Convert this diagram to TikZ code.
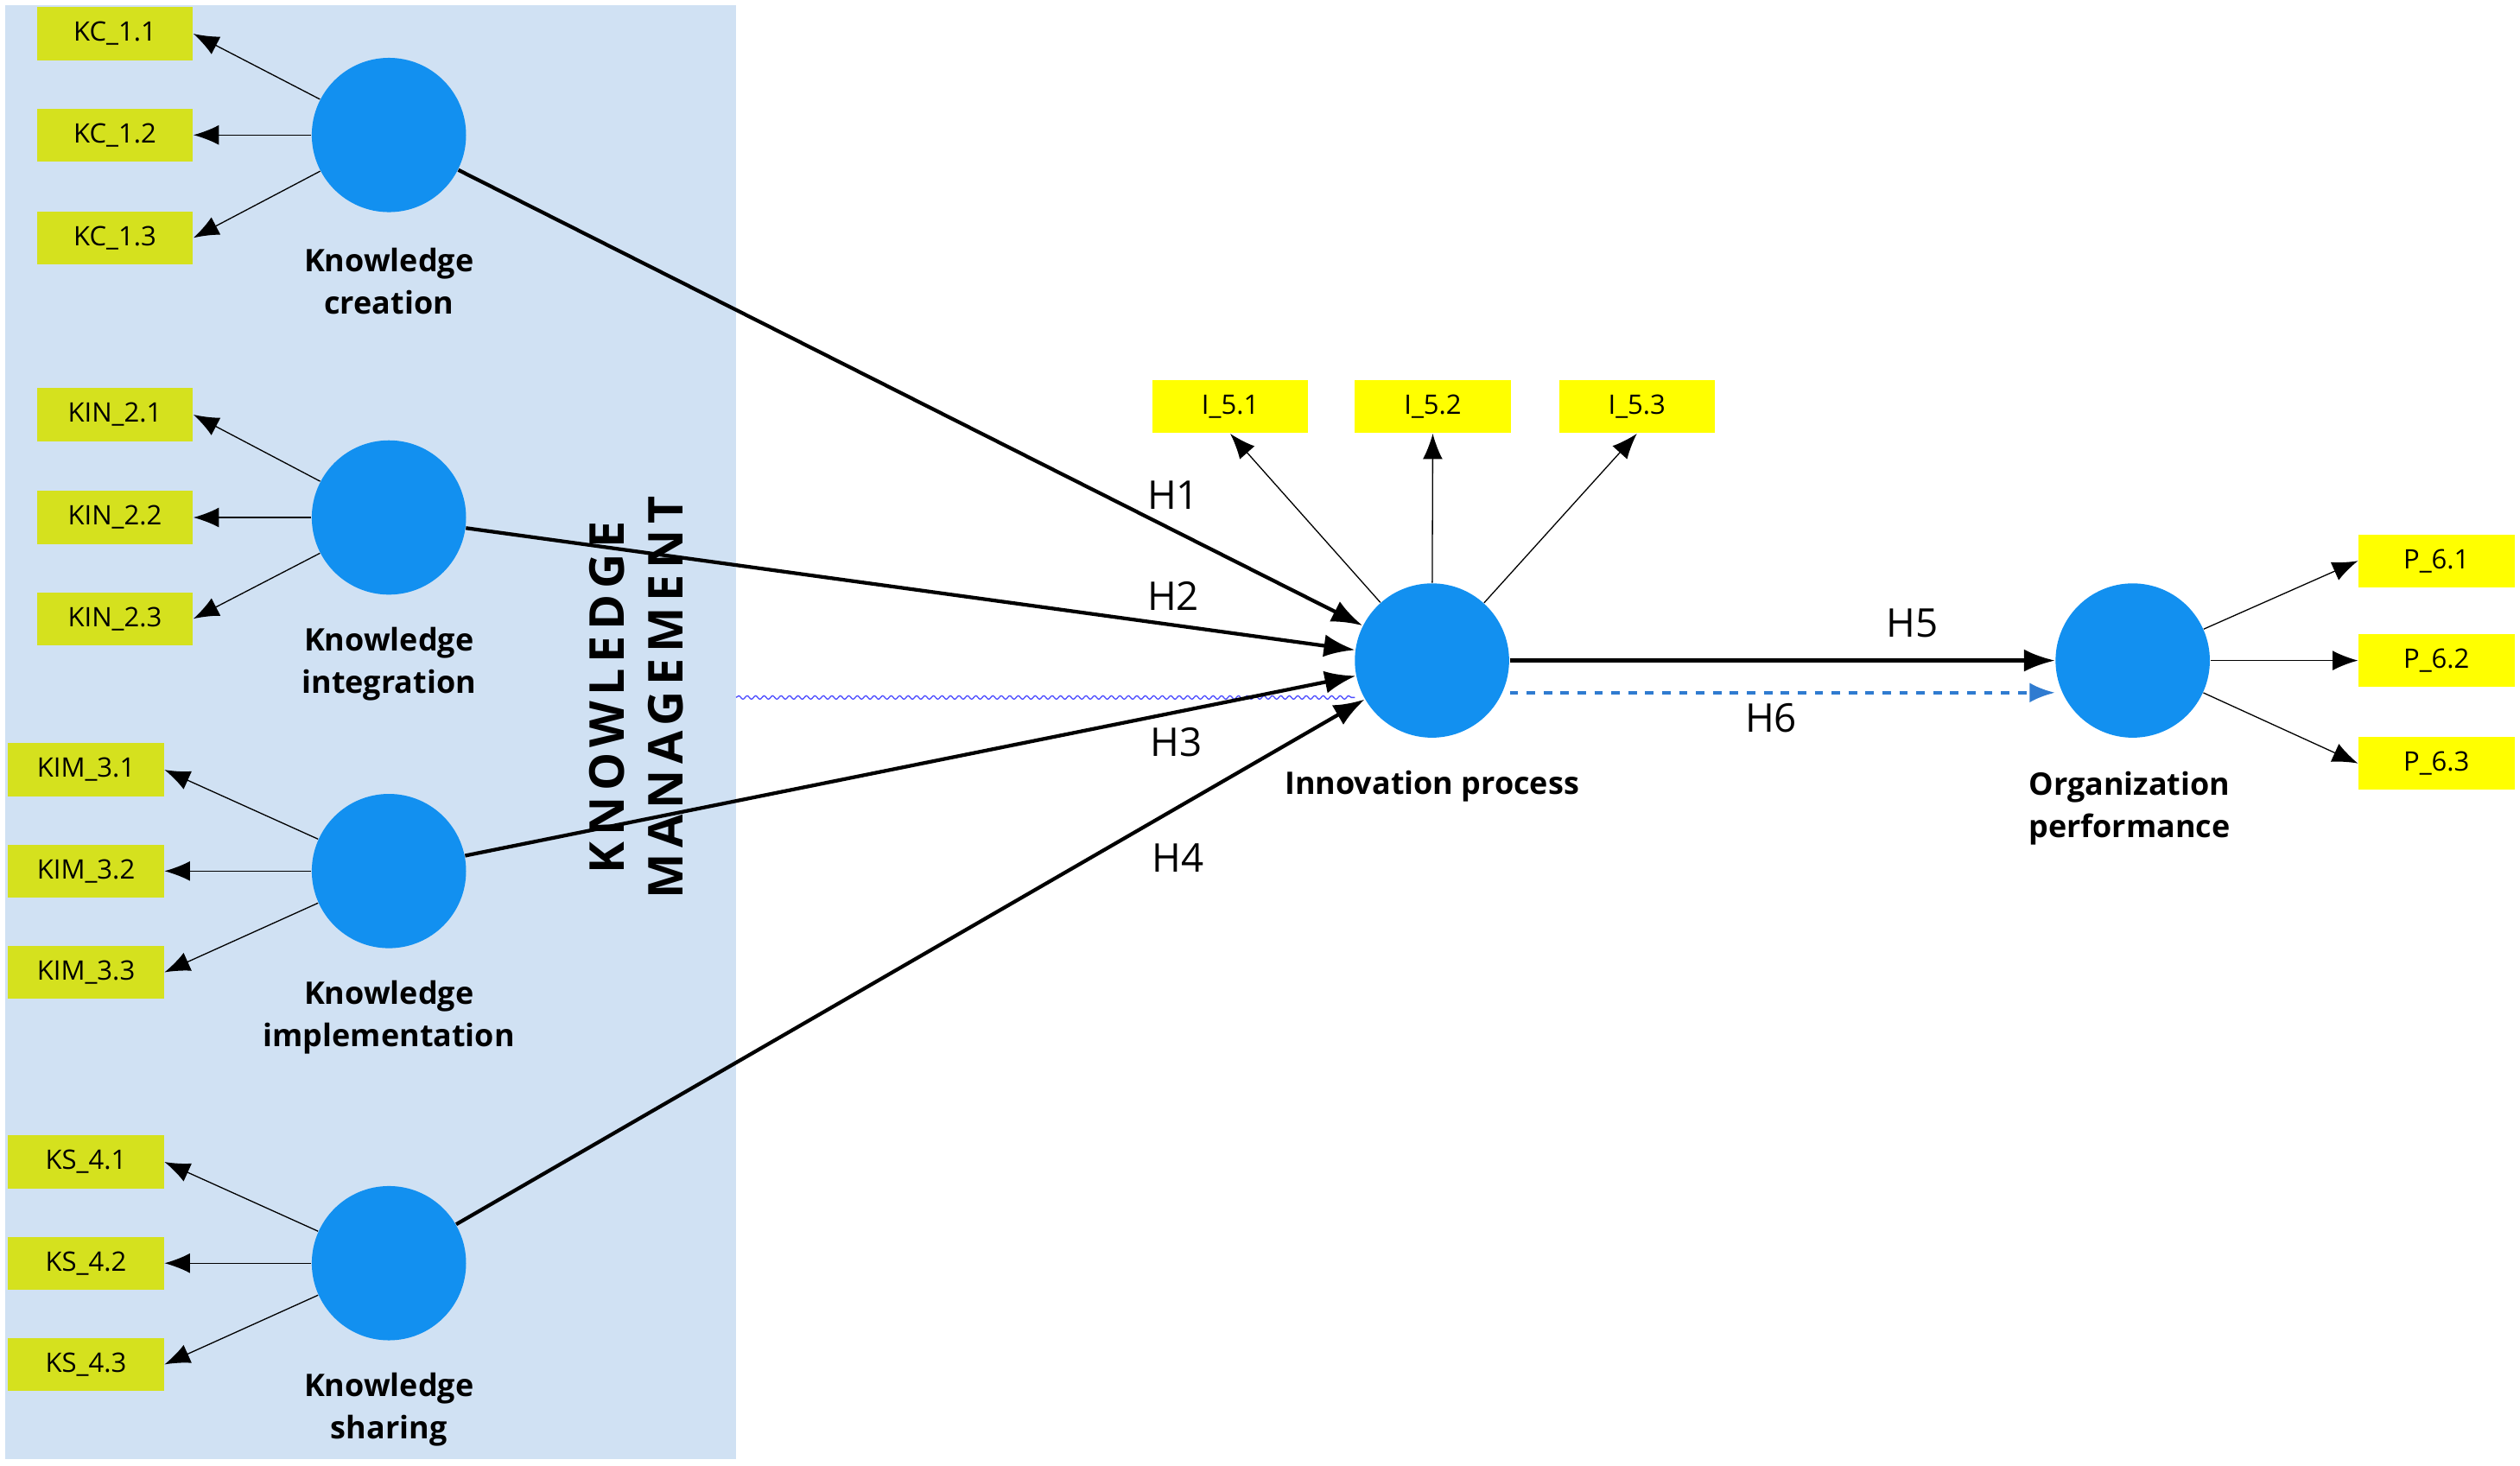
\documentclass[tikz,border=0pt]{standalone}
\usepackage{fontspec}
\setmainfont{Open Sans}
\usetikzlibrary{arrows.meta,decorations.pathmorphing}
\definecolor{kmblue}{HTML}{D0E1F3}
\definecolor{lvblue}{HTML}{1290F0}
\definecolor{indgreen}{HTML}{D5E11E}
\definecolor{indyellow}{HTML}{FFFF00}
\definecolor{dashblue}{HTML}{2F7BD0}
\tikzset{
  latent/.style={circle,fill=lvblue,minimum size=96\pxu,inner sep=0pt},
  item/.style={fill=#1,minimum width=97\pxu,minimum height=33\pxu,inner sep=0pt,font=\fontsize{9.5}{11}\selectfont},
  item/.default=indgreen,
  lvname/.style={align=center,font=\bfseries\fontsize{11}{15}\selectfont},
  load/.style={-{Latex[length=9pt,width=7pt]},thin},
  path/.style={-{Latex[length=11pt,width=8pt]},line width=1.3pt},
  hlab/.style={font=\fontsize{14}{16}\selectfont}
}
\newlength{\pxu}\setlength{\pxu}{0.02cm}
\begin{document}
\begin{tikzpicture}[x=0.02cm,y=-0.02cm]
\useasboundingbox (0,0) rectangle (1568,912);
\fill[kmblue] (3,3) rectangle (458,908);

% latent variables
\node[latent] (kc) at (242,84) {};
\node[latent] (kin) at (242,322) {};
\node[latent] (kim) at (242,542) {};
\node[latent] (ks) at (242,786) {};
\node[latent] (ip) at (891,411) {};
\node[latent] (op) at (1327,411) {};

\node[lvname] at (242,175) {Knowledge\\creation};
\node[lvname] at (242,413) {Knowledge\\integration};
\node[lvname] at (242,633) {Knowledge\\implementation};
\node[lvname] at (242,877) {Knowledge\\sharing};
\node[lvname] at (891,489) {Innovation process};
\node[lvname] at (1325,503) {Organization\\performance};

% indicators
\foreach \i/\y in {1/21,2/84,3/148} {
  \node[item] (kc\i) at (71.5,\y) {KC\_1.\i};
  \draw[load] (kc) -- (kc\i.east);
}
\foreach \i/\y in {1/258,2/322,3/385} {
  \node[item] (kin\i) at (71.5,\y) {KIN\_2.\i};
  \draw[load] (kin) -- (kin\i.east);
}
\foreach \i/\y in {1/479,2/542,3/605} {
  \node[item] (kim\i) at (53.5,\y) {KIM\_3.\i};
  \draw[load] (kim) -- (kim\i.east);
}
\foreach \i/\y in {1/723,2/786,3/849} {
  \node[item] (ks\i) at (53.5,\y) {KS\_4.\i};
  \draw[load] (ks) -- (ks\i.east);
}
\foreach \i/\x in {1/765.5,2/891.5,3/1018.5} {
  \node[item=indyellow] (i\i) at (\x,253) {I\_5.\i};
}
\draw[load] (ip) -- (i1.south);
\draw[load] (ip) -- (i2.south);
\draw[load] (ip) -- (i3.south);
\foreach \i/\y in {1/349,2/411,3/475} {
  \node[item=indyellow] (p\i) at (1516,\y) {P\_6.\i};
  \draw[load] (op) -- (p\i.west);
}

% structural paths
\draw[blue!70!white,decorate,decoration={snake,amplitude=0.6pt,segment length=3pt}] (458,434) -- (843,434);
\draw[path] (kc) -- (ip);
\draw[path] (kin) -- (ip);
\draw[path] (kim) -- (ip);
\draw[path] (ks) -- (ip);
\draw[path] (ip) -- (op);
\draw[dashblue,dashed,line width=1.2pt,-{Latex[length=9pt,width=7pt]}] (ip.east |- 0,431) -- (op.west |- 0,431);
\node[hlab] at (730,308) {H1};
\node[hlab] at (730,371) {H2};
\node[hlab] at (732,462) {H3};
\node[hlab] at (733,534) {H4};
\node[hlab] at (1190,388) {H5};
\node[hlab] at (1102,447) {H6};

\node[rotate=90,align=center,font=\bfseries\fontsize{17}{21}\selectfont\addfontfeature{LetterSpace=12}] at (396,434) {KNOWLEDGE\\MANAGEMENT};
\end{tikzpicture}
\end{document}
